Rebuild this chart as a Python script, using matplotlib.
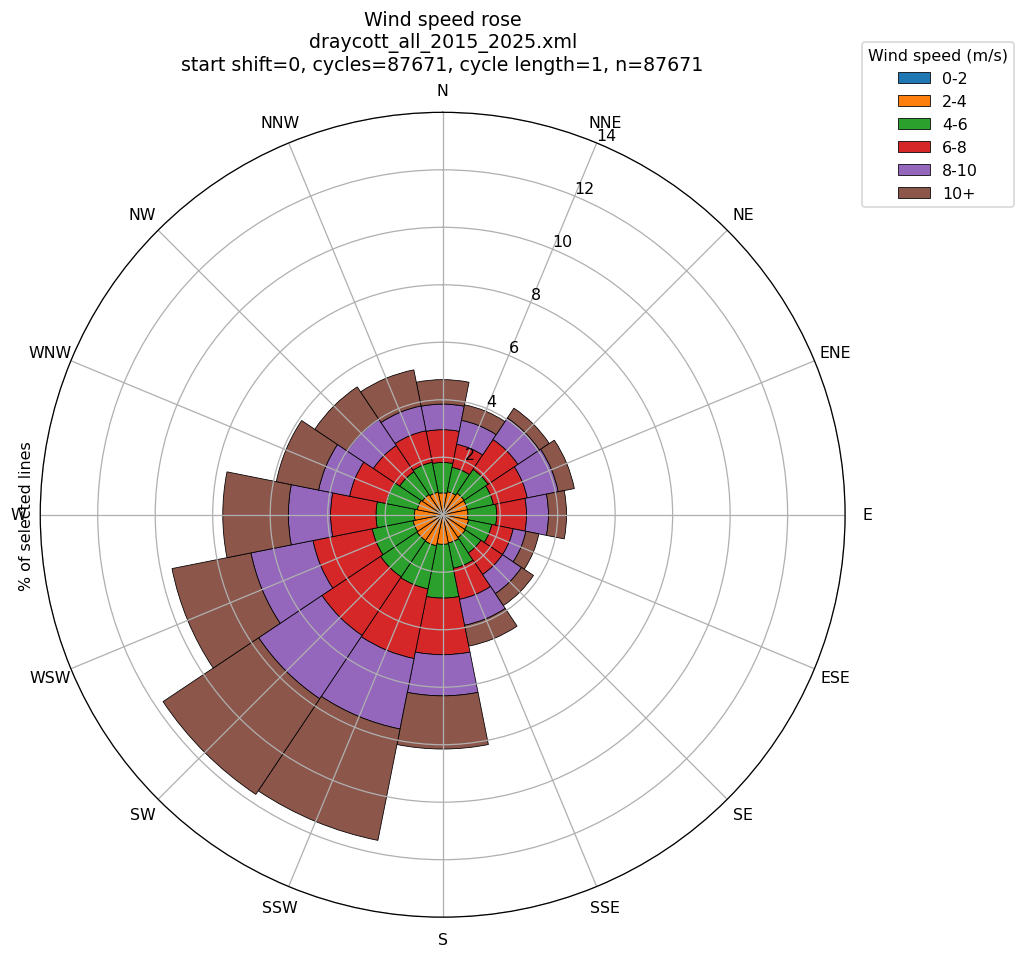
import matplotlib
matplotlib.use("Agg")
import matplotlib.pyplot as plt
import numpy as np

directions = ["N", "NNE", "NE", "ENE", "E", "ESE", "SE", "SSE",
              "S", "SSW", "SW", "WSW", "W", "WNW", "NW", "NNW"]

speed_bins = ["0-2", "2-4", "4-6", "6-8", "8-10", "10+"]

# % of lines per direction, one list per speed bin
pct_0_2 = [0.08, 0.08, 0.08, 0.08, 0.08, 0.08, 0.08, 0.08,
           0.08, 0.08, 0.08, 0.08, 0.08, 0.08, 0.08, 0.08]
pct_2_4 = [0.68, 0.74, 0.82, 0.80, 0.80, 0.84, 0.87, 0.92,
           0.95, 1.02, 1.00, 0.97, 0.90, 0.82, 0.77, 0.72]
pct_4_6 = [1.06, 0.86, 1.00, 0.92, 1.00, 0.82, 0.65, 0.90,
           1.87, 1.53, 1.52, 1.45, 1.34, 1.10, 0.95, 1.06]
pct_6_8 = [1.14, 0.82, 1.25, 1.20, 1.04, 0.76, 0.90, 1.10,
           1.97, 2.47, 2.45, 2.10, 1.58, 1.30, 1.10, 1.12]
pct_8_10 = [0.89, 0.85, 0.90, 1.10, 0.76, 0.45, 0.80, 0.92,
            1.43, 2.50, 2.65, 2.20, 1.47, 1.10, 1.10, 0.88]
pct_10_up = [0.85, 0.55, 0.41, 0.57, 0.63, 0.46, 0.50, 0.74,
             1.85, 3.95, 4.00, 2.80, 2.28, 1.50, 1.35, 1.28]

series = [pct_0_2, pct_2_4, pct_4_6, pct_6_8, pct_8_10, pct_10_up]
colors = ["tab:blue", "tab:orange", "tab:green", "tab:red", "tab:purple", "tab:brown"]

DPI = 114
fig = plt.figure(figsize=(1024 / DPI, 959 / DPI), dpi=DPI)
ax = fig.add_axes([0.0393, 0.0425, 0.786, 0.8394], projection="polar")
ax.set_theta_zero_location("N")
ax.set_theta_direction(-1)

theta = np.deg2rad(np.arange(len(directions)) * 360.0 / len(directions))
width = 2 * np.pi / len(directions)

bottom = np.zeros(len(directions))
for vals, lbl, c in zip(series, speed_bins, colors):
    vals = np.array(vals)
    ax.bar(theta, vals, width=width, bottom=bottom, color=c,
           edgecolor="black", linewidth=0.5, label=lbl)
    bottom += vals

ax.set_xticks(theta)
ax.set_xticklabels(directions)
ax.set_ylim(0, 14)
ax.set_yticks([2, 4, 6, 8, 10, 12, 14])
ax.set_ylabel("% of selected lines")
ax.set_title("Wind speed rose\ndraycott_all_2015_2025.xml\n"
             "start shift=0, cycles=87671, cycle length=1, n=87671", pad=8)

fig.legend(*ax.get_legend_handles_labels(), loc="upper left",
           bbox_to_anchor=(0.8415, 0.955), borderaxespad=0,
           title="Wind speed (m/s)")

fig.savefig("out.png", dpi=DPI)
